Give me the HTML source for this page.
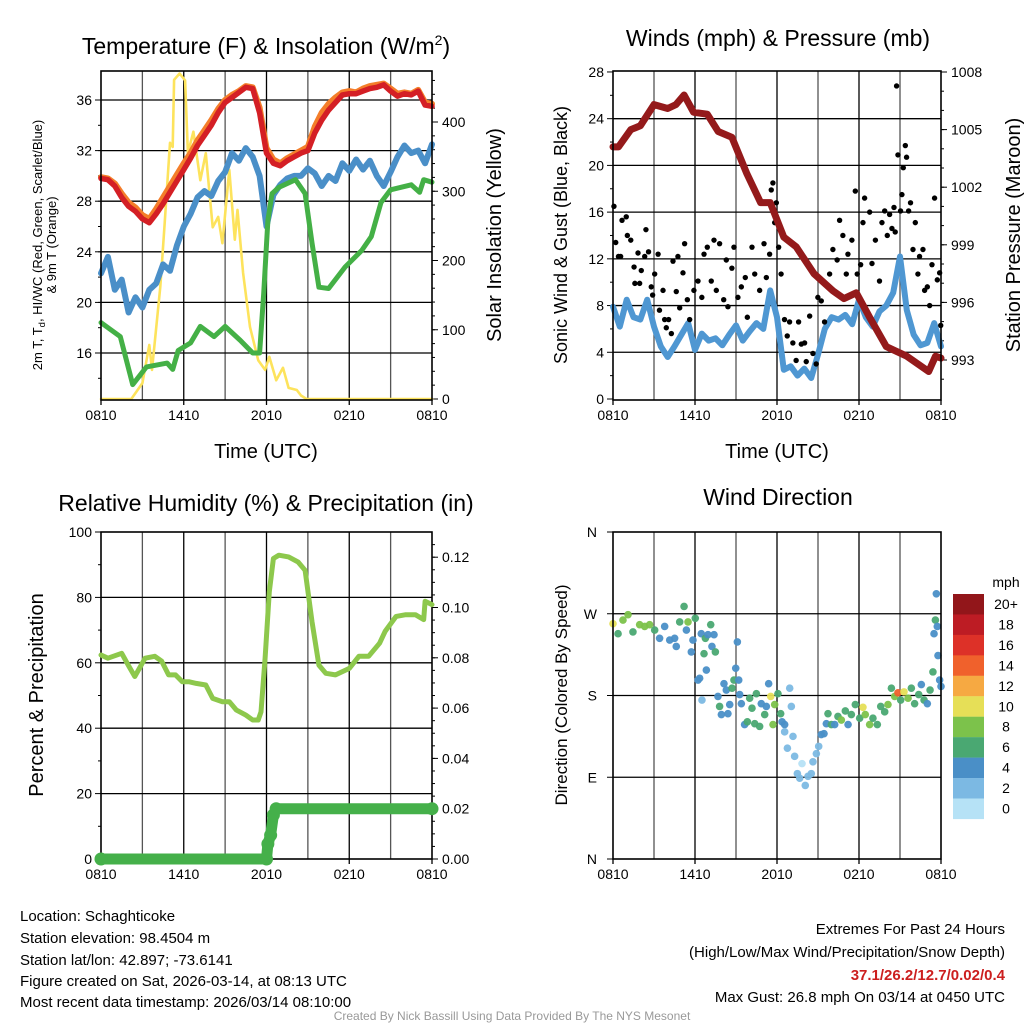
<!DOCTYPE html>
<html><head><meta charset="utf-8"><style>
body{margin:0;background:#fff;}
svg{display:block;font-family:"Liberation Sans",Arial,sans-serif;}
</style></head><body>
<svg id="chart" width="1024" height="1024" viewBox="0 0 1024 1024" xmlns="http://www.w3.org/2000/svg">
<rect width="1024" height="1024" fill="#fff"/>
<g id="g1"></g>
<g id="g2"></g>
<g id="g3"></g>
<g id="g4"></g>
<text x="266" y="54" font-size="23" text-anchor="middle">Temperature (F) &amp; Insolation (W/m<tspan font-size="14" dy="-9">2</tspan><tspan dy="9">)</tspan></text>
<text x="778" y="46" font-size="23" text-anchor="middle">Winds (mph) &amp; Pressure (mb)</text>
<text x="266" y="511" font-size="23" text-anchor="middle">Relative Humidity (%) &amp; Precipitation (in)</text>
<text x="778" y="505" font-size="23" text-anchor="middle">Wind Direction</text>
<text x="266" y="458" font-size="20" text-anchor="middle">Time (UTC)</text>
<text x="777" y="458" font-size="20" text-anchor="middle">Time (UTC)</text>
<text transform="translate(42,245) rotate(-90)" font-size="13" text-anchor="middle">2m T, T<tspan font-size="9.5" dy="3">d</tspan><tspan dy="-3">, HI/WC (Red, Green, Scarlet/Blue)</tspan></text>
<text transform="translate(56,245) rotate(-90)" font-size="13" text-anchor="middle">&amp; 9m T (Orange)</text>
<text transform="translate(501,235) rotate(-90)" font-size="20" text-anchor="middle">Solar Insolation (Yellow)</text>
<text transform="translate(567,235) rotate(-90)" font-size="18" text-anchor="middle">Sonic Wind &amp; Gust (Blue, Black)</text>
<text transform="translate(1020,235) rotate(-90)" font-size="20" text-anchor="middle">Station Pressure (Maroon)</text>
<text transform="translate(43,695) rotate(-90)" font-size="20" text-anchor="middle">Percent &amp; Precipitation</text>
<text transform="translate(567,695) rotate(-90)" font-size="17" text-anchor="middle">Direction (Colored By Speed)</text>
<g font-size="15">
<text x="20" y="921">Location: Schaghticoke</text>
<text x="20" y="943">Station elevation: 98.4504 m</text>
<text x="20" y="965">Station lat/lon: 42.897; -73.6141</text>
<text x="20" y="986">Figure created on Sat, 2026-03-14, at 08:13 UTC</text>
<text x="20" y="1007">Most recent data timestamp: 2026/03/14 08:10:00</text>
</g>
<g font-size="15" text-anchor="end">
<text x="1005" y="934">Extremes For Past 24 Hours</text>
<text x="1005" y="957">(High/Low/Max Wind/Precipitation/Snow Depth)</text>
<text x="1005" y="980" fill="#cc1f1f" font-weight="bold">37.1/26.2/12.7/0.02/0.4</text>
<text x="1005" y="1002">Max Gust: 26.8 mph On 03/14 at 0450 UTC</text>
</g>
<text x="512" y="1020" font-size="12" fill="#999" text-anchor="middle">Created By Nick Bassill Using Data Provided By The NYS Mesonet</text>
</svg>
<script>
// ---------- DATA ----------
const xTickLabels = ["0810","1410","2010","0210","0810"];
const half = []; for (let i=0;i<=48;i++) half.push(i/2);
const tempTimes = [0,0.5,1,1.5,2,2.5,3,3.5,4,4.5,5,5.5,6,6.5,7,7.5,8,8.5,9,9.5,10,10.5,11,11.5,12,12.5,13,13.5,14,14.5,15,15.5,16,16.5,17,17.5,18,18.5,19,19.5,20,20.5,21,21.5,22,22.5,23,23.5,24];
const tempRed = [29.8,29.7,29.2,28.3,27.6,27.2,26.6,26.3,27.0,27.8,28.7,29.6,30.5,31.4,32.4,33.2,34.0,35.0,35.8,36.2,36.6,37.0,36.9,35.0,31.8,31.0,30.8,31.2,31.5,31.8,32.0,33.4,34.4,35.2,35.8,36.4,36.5,36.5,36.7,36.9,37.0,37.2,36.7,36.3,36.5,36.4,36.7,35.6,35.5];
const tempOrange = [29.9,29.8,29.4,28.6,27.9,27.5,26.9,26.6,27.4,28.3,29.2,30.1,31.0,31.8,32.8,33.6,34.4,35.3,36.0,36.4,36.7,37.1,37.0,35.4,32.2,31.3,31.0,31.4,31.7,32.0,32.3,33.9,35.0,35.7,36.2,36.6,36.7,36.6,36.9,37.1,37.2,37.3,36.9,36.5,36.6,36.5,36.8,35.8,35.7];
const tempBlue = [22.3,23.6,21.0,21.8,19.2,20.4,19.6,21.0,21.5,23.0,22.5,24.5,26.0,27.0,28.3,28.8,28.4,29.6,30.3,31.8,31.2,32.2,31.5,30.0,26.0,28.5,29.3,29.8,30.0,30.0,30.6,30.2,29.2,30.0,29.6,31.0,30.4,31.3,30.5,31.2,30.0,29.2,30.3,31.5,32.4,31.8,32.0,31.0,32.5];
const dewTimes = [0,1.4,2.3,3.3,4.8,5.2,5.6,6.5,7.2,8.2,9.0,10.1,11.0,11.5,11.8,12.1,12.4,12.9,14.1,14.8,15.3,15.8,16.5,17.7,18.9,19.6,20.3,21.0,22.5,23.1,23.4,24];
const dewGreen = [18.4,17.3,13.5,14.9,15.2,14.7,16.2,16.8,18.1,17.3,18.1,17.0,16.0,16.0,20.7,26.5,28.6,29.1,29.7,28.6,24.7,21.2,21.1,22.8,24.1,25.2,27.9,28.9,29.3,28.7,29.7,29.5];
const solarTimes = [0,2.2,3.0,3.5,3.7,4.3,4.6,5.0,5.2,5.3,5.7,6.1,6.3,6.7,7.2,7.6,8.1,8.5,8.8,9.3,9.7,9.9,10.3,10.8,11.4,11.9,12.2,12.7,13.2,13.6,14.2,14.5,14.9,24];
const solarVals = [0,0,23,78,42,162,248,370,364,461,470,460,355,386,316,355,248,263,225,331,230,273,182,104,56,42,61,27,45,16,13,5,0,0];
const windBlue = [7.9,6.2,8.5,7.0,6.8,8.5,6.2,4.5,3.6,4.5,5.5,6.5,4.2,5.6,5.0,5.2,4.6,5.5,6.3,5.0,5.8,6.5,6.0,9.3,7.0,2.5,2.8,2.0,2.6,1.8,3.8,6.0,7.0,6.8,7.2,6.4,8.5,7.0,6.2,7.5,8.0,9.1,12.2,7.6,5.5,4.6,4.8,6.5,4.5];
const gustTimes = [0.07,0.2,0.4,0.56,0.66,0.97,1.05,1.3,1.54,1.6,1.83,1.95,2.07,2.32,2.41,2.6,2.8,2.9,3.05,3.3,3.4,3.66,3.78,3.9,4.07,4.27,4.39,4.63,4.75,4.88,5.12,5.24,5.44,5.61,5.92,6.22,6.5,6.66,6.9,7.19,7.39,7.56,7.8,8.1,8.29,8.41,8.7,8.85,9.14,9.39,9.68,9.83,10.17,10.37,10.73,11.05,11.22,11.46,11.58,11.7,11.83,11.95,12.12,12.3,12.55,12.75,12.92,13.16,13.4,13.58,13.78,14.02,14.14,14.39,14.63,14.87,14.99,15.24,15.48,15.85,16.09,16.4,16.58,16.82,17.07,17.19,17.48,17.73,17.87,18.12,18.29,18.41,18.78,18.95,19.2,19.5,19.68,19.88,20.07,20.24,20.41,20.56,20.65,20.75,20.85,21.04,21.14,21.24,21.39,21.48,21.63,21.77,21.95,22.12,22.31,22.43,22.68,22.8,23.0,23.17,23.34,23.53,23.73,23.9,23.98];
const gustVals = [16.5,13.4,12.2,12.2,15.3,15.6,14.0,13.6,11.3,9.9,12.5,9.9,11.0,12.2,14.5,12.6,9.6,8.9,10.7,12.4,7.6,9.3,6.8,6.1,6.8,5.6,11.8,9.2,12.2,7.8,10.8,13.3,8.5,6.8,9.3,10.1,8.7,12.4,13.0,10.1,13.6,9.3,13.3,8.5,11.9,7.9,11.2,13.0,8.7,9.6,10.4,7.0,13.0,10.7,9.3,13.3,10.4,12.4,17.9,18.5,15.1,16.8,13.0,10.7,6.8,5.4,6.6,4.8,3.3,6.6,4.7,4.8,3.2,7.1,3.9,3.0,8.7,8.4,6.6,10.7,12.8,11.9,15.3,14.0,10.7,12.4,13.6,17.8,10.7,11.5,15.1,17.2,16.0,11.6,13.6,10.1,15.1,16.1,14.0,15.8,14.6,16.4,14.3,26.8,20.9,16.1,17.5,19.8,21.7,20.7,16.1,16.8,12.8,15.1,10.7,12.2,12.8,9.3,9.6,8.0,11.5,17.2,10.2,10.8,6.3];
const presTimes = [0,0.4,1.3,2.0,3.0,4.0,4.6,5.2,5.9,6.9,7.7,8.7,9.8,10.8,11.5,12.5,13.4,14.7,16.1,16.9,17.8,18.8,20.0,21.5,23.1,23.6,24];
const presVals = [1004.1,1004.1,1005.0,1005.2,1006.3,1006.1,1006.3,1006.8,1005.9,1005.8,1004.9,1004.6,1002.7,1001.2,1001.2,999.4,998.9,997.5,996.6,996.2,996.5,995.2,993.7,993.2,992.4,993.2,993.1];
const rhTimes = [0,0.5,1.5,1.97,2.45,3.2,3.9,4.4,4.9,5.4,5.9,6.4,6.9,7.6,8.1,8.8,9.3,9.8,10.5,11.0,11.4,11.6,11.9,12.2,12.5,12.9,13.6,14.3,14.8,15.3,15.8,16.3,17.0,18.0,18.7,19.4,20.2,20.6,21.4,22.1,22.8,23.4,23.5,24];
const rhVals = [62.4,61.4,62.9,59.3,55.8,61.4,62.0,60.5,56.3,56.3,54.2,54.2,53.7,53.2,49.1,48.1,48.1,45.6,44.0,42.5,42.5,45.0,61.4,81.7,91.9,92.9,92.4,90.8,88.3,72.6,59.3,56.8,56.3,58.3,62.0,62.0,66.0,69.6,74.2,74.7,74.7,73.2,78.8,77.8];
const precipTimes = [0,12.0,12.1,12.3,12.5,12.7,24];
const precipVals = [0,0,0.006,0.0095,0.0175,0.02,0.02];
const dirTimes = [0,0.37,0.73,1.1,1.46,1.95,2.32,2.68,3.05,3.41,3.78,4.15,4.51,4.63,4.88,5.2,5.37,5.49,5.73,5.85,6.02,6.22,6.34,6.46,6.66,6.76,6.83,6.95,7.15,7.24,7.39,7.49,6.51,7.68,7.8,7.93,8.12,8.29,8.41,8.54,8.71,8.85,8.98,9.1,9.2,9.27,9.39,9.63,9.83,10.0,10.17,10.37,10.49,10.73,10.85,11.1,11.22,11.39,11.54,11.71,11.83,12.07,12.27,12.37,12.56,12.56,12.76,12.93,13.05,13.17,13.29,13.49,13.66,13.83,14.07,14.27,14.51,14.63,14.88,15.05,15.24,15.44,15.61,15.73,15.98,16.22,16.46,16.71,17.0,17.2,17.44,17.73,18.05,18.29,18.46,18.78,19.02,19.34,19.59,19.88,20.12,20.37,20.61,20.85,21.05,21.29,21.59,21.83,22.07,22.37,22.56,22.76,23.0,23.2,23.41,23.49,23.59,23.73,23.78,23.9,24.0,23.66];
const dirVals = [259,248,263,269,250,258,256,258,252,243,256,241,243,234,261,278,252,261,228,241,265,197,199,248,226,243,208,247,258,234,247,228,175,179,168,159,193,186,160,170,188,197,210,239,197,181,171,148,151,177,166,149,182,146,171,159,168,193,179,148,170,182,160,151,148,140,122,188,168,135,113,94,89,105,81,91,94,107,116,124,137,138,149,160,148,148,157,153,163,148,159,170,155,167,159,148,155,148,168,162,170,188,179,183,175,184,177,188,171,181,192,175,171,186,206,248,263,256,224,197,190,292];
const dirSpeeds = [10,6,8,8,6,8,8,8,6,4,4,4,4,4,6,6,4,8,4,4,6,4,4,4,6,6,4,4,6,4,4,6,2,4,6,4,4,4,4,4,6,6,4,4,4,4,4,4,6,6,6,6,6,6,4,6,4,4,10,8,8,6,6,4,4,2,2,2,2,2,2,2,2,0,2,2,2,2,2,2,4,4,4,6,6,4,6,8,6,4,6,6,6,10,8,8,6,6,6,6,8,6,8,14,6,10,8,6,6,6,4,6,4,6,6,4,6,4,4,4,4,4];
const speedBins = ["0","2","4","6","8","10","12","14","16","18","20+"];
const speedColors = ["#b6e2f6","#7cb9e3","#4a8fc7","#4aa872","#7cc24b","#e6df57","#f6a942","#f0612c","#dd3128","#bd1c24","#92161a"];

// ---------- HELPERS ----------
const NS="http://www.w3.org/2000/svg";
function mk(parent, tag, attrs){const e=document.createElementNS(NS,tag);for(const k in attrs)e.setAttribute(k,attrs[k]);parent.appendChild(e);return e;}
function txt(parent,x,y,s,anchor,size){const e=mk(parent,'text',{x:x,y:y,'font-size':size||14,'text-anchor':anchor||'middle'});e.textContent=s;return e;}
function panel(g,x0,x1,y0,y1){
  const xs=t=>x0+t*(x1-x0)/24;
  for(let h=3;h<24;h+=3){const l=mk(g,'line',{x1:xs(h),x2:xs(h),y1:y0,y2:y1,stroke:h%6==0?'#000':'#555','stroke-width':1.3});
    
    }
  xTickLabels.forEach((s,i)=>{const t=txt(g,xs(i*6),y1+20,s,'middle',14);
    
    
    mk(g,'line',{x1:xs(i*6),x2:xs(i*6),y1:y1,y2:y1+5,stroke:'#000','stroke-width':1.3});});
  return xs;
}
function frame(g,x0,x1,y0,y1){const r=mk(g,'rect',{x:x0,y:y0,width:x1-x0,height:y1-y0,fill:'none',stroke:'#000','stroke-width':1.6});
  
  }
function hgrid(g,x0,x1,y){const l=mk(g,'line',{x1:x0,x2:x1,y1:y,y2:y,stroke:'#000','stroke-width':1.3});
  
  }
function path(g,ts,vs,xs,ys,color,w,name){let d='';ts.forEach((t,i)=>{d+=(i?'L':'M')+xs(t).toFixed(1)+','+ys(vs[i]).toFixed(1);});
  const p=mk(g,'path',{d:d,fill:'none',stroke:color,'stroke-width':w,'stroke-linejoin':'round','stroke-linecap':'round'});
  
  return p;}

// ---------- PANEL 1 ----------
(function(){
const g=document.getElementById('g1');const x0=101,x1=432,y0=71,y1=400;
const xs=panel(g,x0,x1,y0,y1);
const yT=v=>353-(v-16)*12.65, yS=v=>399-v*0.6925;
for(let v=16;v<=36;v+=4){hgrid(g,x0,x1,yT(v));const t=txt(g,x0-9,yT(v)+5,String(v),'end',14);
  
  
  mk(g,'line',{x1:x0-6,x2:x0,y1:yT(v),y2:yT(v),stroke:'#000'});}
for(let v=14;v<=37;v+=2)mk(g,'line',{x1:x0-3,x2:x0,y1:yT(v),y2:yT(v),stroke:'#000'});
for(let v=0;v<=400;v+=100){const t=txt(g,x1+10,yS(v)+5,String(v),'start',14);
  
  
  mk(g,'line',{x1:x1,x2:x1+6,y1:yS(v),y2:yS(v),stroke:'#000'});}
for(let v=20;v<=460;v+=20)mk(g,'line',{x1:x1,x2:x1+3,y1:yS(v),y2:yS(v),stroke:'#000'});
path(g,solarTimes,solarVals,xs,yS,'#fde35c',2.6,'solar-line');
path(g,half,tempBlue,xs,yT,'#4a8fc8',6,'windchill-line');
path(g,dewTimes,dewGreen,xs,yT,'#44b046',5,'dewpoint-line');
path(g,tempTimes,tempOrange,xs,yT,'#f47e2a',6,'temp-9m-line');
path(g,tempTimes,tempRed,xs,yT,'#d41f25',5.5,'temp-2m-line');
frame(g,x0,x1,y0,y1);
})();

// ---------- PANEL 2 ----------
(function(){
const g=document.getElementById('g2');const x0=613,x1=941,y0=71,y1=400;
const xs=panel(g,x0,x1,y0,y1);
const yW=v=>399-v*11.68, yP=v=>360-(v-993)*19.2;
for(let v=0;v<=28;v+=4){if(v>0&&v<28)hgrid(g,x0,x1,yW(v));const t=txt(g,x0-9,yW(v)+5,String(v),'end',14);
  
  
  mk(g,'line',{x1:x0-6,x2:x0,y1:yW(v),y2:yW(v),stroke:'#000'});}
for(let v=2;v<=28;v+=4)mk(g,'line',{x1:x0-3,x2:x0,y1:yW(v),y2:yW(v),stroke:'#000'});
for(let v=993;v<=1008;v+=3){const t=txt(g,x1+10,yP(v)+5,String(v),'start',14);
  
  
  mk(g,'line',{x1:x1,x2:x1+6,y1:yP(v),y2:yP(v),stroke:'#000'});}
for(let v=992;v<=1008;v+=1)mk(g,'line',{x1:x1,x2:x1+3,y1:yP(v),y2:yP(v),stroke:'#000'});
path(g,half,windBlue,xs,yW,'#4f97d2',6,'wind-speed-line');
gustTimes.forEach((t,i)=>{const c=mk(g,'circle',{cx:xs(t),cy:yW(gustVals[i]),r:2.7,fill:'#000'});
  
  });
path(g,presTimes,presVals,xs,yP,'#941a1b',7,'pressure-line');
frame(g,x0,x1,y0,y1);
})();

// ---------- PANEL 3 ----------
(function(){
const g=document.getElementById('g3');const x0=101,x1=432,y0=532,y1=859;
const xs=panel(g,x0,x1,y0,y1);
const yR=v=>859-v*3.27, yPr=v=>859-v*2515;
for(let v=0;v<=100;v+=20){if(v>0&&v<100)hgrid(g,x0,x1,yR(v));const t=txt(g,x0-9,yR(v)+5,String(v),'end',14);
  
  
  mk(g,'line',{x1:x0-6,x2:x0,y1:yR(v),y2:yR(v),stroke:'#000'});}
for(let v=10;v<=100;v+=20)mk(g,'line',{x1:x0-3,x2:x0,y1:yR(v),y2:yR(v),stroke:'#000'});
for(let i=0;i<=6;i++){const v=i*0.02;const t=txt(g,x1+10,yPr(v)+5,v.toFixed(2),'start',14);
  
  
  mk(g,'line',{x1:x1,x2:x1+6,y1:yPr(v),y2:yPr(v),stroke:'#000'});}
for(let v=0.005;v<0.13;v+=0.005)mk(g,'line',{x1:x1,x2:x1+3,y1:yPr(v),y2:yPr(v),stroke:'#000'});
frame(g,x0,x1,y0,y1);
path(g,rhTimes,rhVals,xs,yR,'#8dc84c',5,'rh-line');
path(g,precipTimes,precipVals,xs,yPr,'#45b04a',11,'precip-line');
precipTimes.forEach((t,i)=>{const c=mk(g,'circle',{cx:xs(t),cy:yPr(precipVals[i]),r:6.5,fill:'#45b04a'});
  
  });
})();

// ---------- PANEL 4 ----------
(function(){
const g=document.getElementById('g4');const x0=613,x1=941,y0=532,y1=859;
const xs=panel(g,x0,x1,y0,y1);
const yD=v=>859-v*(327/360);
const dl=["N","E","S","W","N"];
dl.forEach((s,i)=>{const v=i*90;if(i>0&&i<4)hgrid(g,x0,x1,yD(v));const t=txt(g,x0-16,yD(v)+5,s,'end',14);
  
  
  mk(g,'line',{x1:x0-6,x2:x0,y1:yD(v),y2:yD(v),stroke:'#000'});});
dirTimes.forEach((t,i)=>{const k=Math.min(10,Math.floor(dirSpeeds[i]/2));
  const c=mk(g,'circle',{cx:xs(t),cy:yD(dirVals[i]),r:3.8,fill:speedColors[k],opacity:0.95});
  
  });
frame(g,x0,x1,y0,y1);
const cb=mk(g,'g',{});


const t=txt(cb,1006,587,'mph','middle',14);
for(let i=0;i<11;i++){const k=10-i;const y=594+i*20.45;
  const r=mk(cb,'rect',{x:953,y:y,width:31,height:20.6,fill:speedColors[k]});
  
  
  const l=txt(cb,1006,y+15,speedBins[k],'middle',14);
  
  }
})();
</script>
</body></html>
